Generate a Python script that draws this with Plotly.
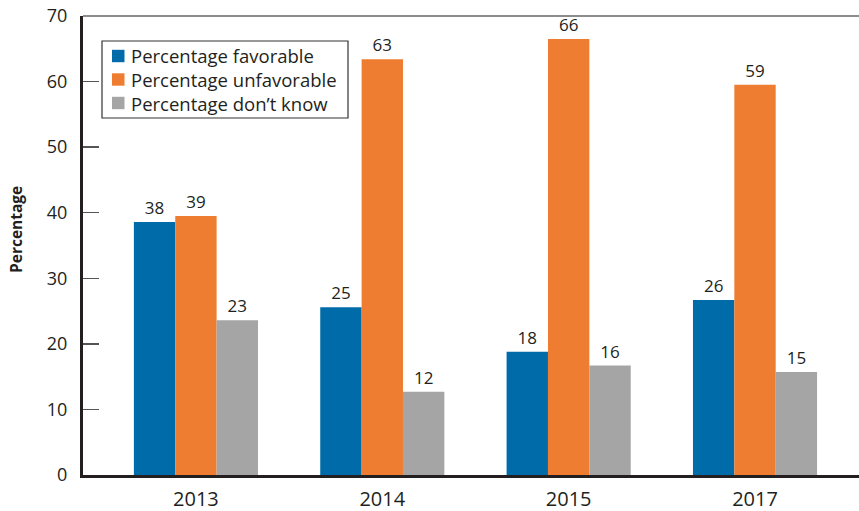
import plotly.graph_objects as go

years = ["2013", "2014", "2015", "2017"]
favorable = [38.6, 25.6, 18.8, 26.7]
unfavorable = [39.5, 63.4, 66.5, 59.5]
dont_know = [23.6, 12.7, 16.7, 15.7]
favorable_labels = ["38", "25", "18", "26"]
unfavorable_labels = ["39", "63", "66", "59"]
dont_know_labels = ["23", "12", "16", "15"]
y_ticks = [0, 10, 20, 30, 40, 50, 60, 70]

series = [
    ("Percentage favorable", favorable, favorable_labels, "#006BA9"),
    ("Percentage unfavorable", unfavorable, unfavorable_labels, "#EE7D31"),
    ("Percentage don\u2019t know", dont_know, dont_know_labels, "#A5A5A5"),
]

FONT = "Open Sans"
TXT = "#231F20"

# plot area in page pixels: x 83..859, y 16..475
PX0, PX1, PY0, PY1 = 83, 859, 16, 475
def px(x):
    return (x - PX0) / (PX1 - PX0)
def py(y):
    return (PY1 - y) / (PY1 - PY0)

fig = go.Figure()
for name, vals, labels, color in series:
    fig.add_trace(go.Bar(
        name=name, x=years, y=vals, text=labels,
        textposition="outside", cliponaxis=False,
        textfont=dict(family=FONT, size=17, color=TXT),
        marker=dict(color=color, line=dict(width=0)),
        hoverinfo="skip", showlegend=False,
    ))

shapes = [dict(type="line", xref="paper", yref="paper", x0=0, x1=1, y0=1, y1=1,
               line=dict(color="#666666", width=1.5))]
annotations = []

# legend box
shapes.append(dict(type="rect", xref="paper", yref="paper",
                   x0=px(102), x1=px(348), y0=py(118), y1=py(41),
                   line=dict(color="#333333", width=1.2), fillcolor="white", layer="above"))
row_y = [56, 79.5, 103]
for (name, _, _, color), ry in zip(series, row_y):
    shapes.append(dict(type="rect", xref="paper", yref="paper",
                       x0=px(112), x1=px(124.5), y0=py(ry + 6.2), y1=py(ry - 6.2),
                       line=dict(width=0), fillcolor=color, layer="above"))
    annotations.append(dict(xref="paper", yref="paper", x=px(129), y=py(ry),
                            xanchor="left", yanchor="middle", showarrow=False,
                            text=name, font=dict(family=FONT, size=18.5, color=TXT)))

# y-axis title
annotations.append(dict(xref="paper", yref="paper", x=px(16), y=py(230),
                        xanchor="center", yanchor="middle", showarrow=False, textangle=-90,
                        text="<b>Percentage</b>", font=dict(family=FONT, size=15.5, color=TXT)))

fig.update_layout(
    width=859, height=511,
    margin=dict(l=83, r=0, t=16, b=36, autoexpand=False),
    paper_bgcolor="white", plot_bgcolor="white",
    barmode="group", bargap=0.334, bargroupgap=0,
    font=dict(family=FONT, color=TXT),
    showlegend=False,
    xaxis=dict(
        range=[-0.606, 3.558],
        showline=True, linecolor=TXT, linewidth=3,
        ticks="", showgrid=False,
        tickfont=dict(family=FONT, size=20, color=TXT),
        ticklabelstandoff=4,
    ),
    yaxis=dict(
        range=[0, 70], tickvals=y_ticks,
        showline=True, linecolor=TXT, linewidth=3,
        ticks="inside", ticklen=16, tickwidth=1.5, tickcolor="#555555",
        showgrid=False, zeroline=False,
        tickfont=dict(family=FONT, size=18, color=TXT),
        ticklabelstandoff=9, ticklabeloverflow="allow",
    ),
    shapes=shapes,
    annotations=annotations,
)

fig.write_html(
    "out.html",
    config={"displayModeBar": False, "staticPlot": True},
    post_script="document.body.style.margin='0';document.body.style.padding='0';",
)
